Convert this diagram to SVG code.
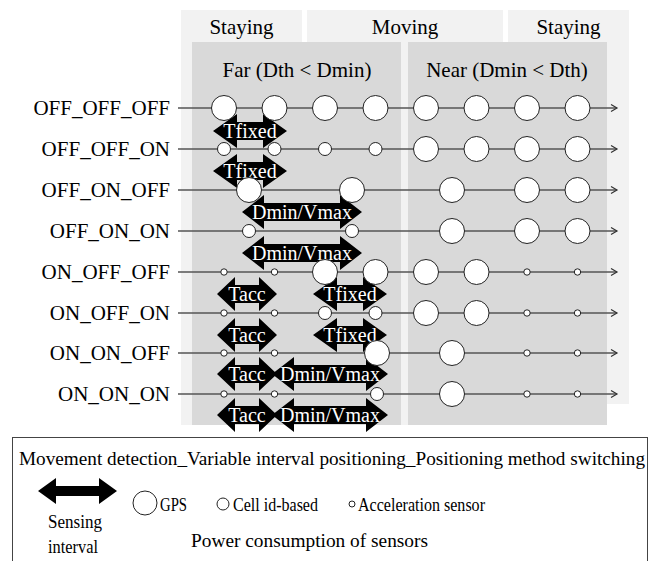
<svg xmlns="http://www.w3.org/2000/svg" width="651" height="561" viewBox="0 0 651 561" font-family="Liberation Serif, DejaVu Serif, serif">
  <style>
    .hdr { font-size: 21px; text-anchor: middle; fill: #000; }
    .lbl { font-size: 21px; text-anchor: end; fill: #000; }
    .atx { font-size: 20px; text-anchor: middle; fill: #fff; }
    .leg { font-size: 19px; fill: #000; }
    .bg1 { fill: #f2f2f2; }
    .bg2 { fill: #d9d9d9; }
    .row { stroke: #555; stroke-width: 1.3; fill: none; marker-end: url(#chev); }
    .arr { fill: #000; }
    .gps, .cell, .acc { fill: #fff; stroke: #222; stroke-width: 1; }
  </style>
  <defs>
    <marker id="chev" markerWidth="10" markerHeight="10" refX="7" refY="4" orient="auto" markerUnits="userSpaceOnUse">
      <path d="M1,0.5 L7,4 L1,7.5" fill="none" stroke="#333" stroke-width="1.2"/>
    </marker>
    <path id="a-tfixed" d="M-37,0 L-13,-17 L-13,-9 L13,-9 L13,-17 L37,0 L13,17 L13,9 L-13,9 L-13,17 Z"/>
    <path id="a-tacc" d="M-30,0 L-12,-17 L-12,-9 L12,-9 L12,-17 L30,0 L12,17 L12,9 L-12,9 L-12,17 Z"/>
    <path id="a-dmin" d="M-60,0 L-38,-17 L-38,-9 L38,-9 L38,-17 L60,0 L38,17 L38,9 L-38,9 L-38,17 Z"/>
    <path id="a-dmin2" d="M-58,0 L-36,-17 L-36,-9 L36,-9 L36,-17 L58,0 L36,17 L36,9 L-36,9 L-36,17 Z"/>
  </defs>

  <!-- state bands -->
  <g id="bands">
    <rect class="bg1" x="181" y="10" width="121" height="415"/>
    <rect class="bg1" x="307" y="10" width="196" height="415"/>
    <rect class="bg1" x="508" y="10" width="121" height="394"/>
    <text class="hdr" x="241.5" y="34">Staying</text>
    <text class="hdr" x="405" y="34">Moving</text>
    <text class="hdr" x="568.5" y="34">Staying</text>
  </g>
  <g id="zones">
    <rect class="bg2" x="192" y="42" width="209" height="383"/>
    <rect class="bg2" x="408" y="42" width="199" height="383"/>
    <text class="hdr" x="297" y="77">Far (Dth &lt; Dmin)</text>
    <text class="hdr" x="507" y="77">Near (Dmin &lt; Dth)</text>
  </g>

  <!-- row labels -->
  <g id="labels">
    <text class="lbl" x="170" y="115">OFF_OFF_OFF</text>
    <text class="lbl" x="170" y="156">OFF_OFF_ON</text>
    <text class="lbl" x="170" y="197">OFF_ON_OFF</text>
    <text class="lbl" x="170" y="238">OFF_ON_ON</text>
    <text class="lbl" x="170" y="279">ON_OFF_OFF</text>
    <text class="lbl" x="170" y="320">ON_OFF_ON</text>
    <text class="lbl" x="170" y="360">ON_ON_OFF</text>
    <text class="lbl" x="170" y="401">ON_ON_ON</text>
  </g>

  <!-- time lines -->
  <g id="connectors">
    <line class="row" x1="178" y1="108" x2="617" y2="108"/>
    <line class="row" x1="178" y1="149" x2="617" y2="149"/>
    <line class="row" x1="178" y1="190" x2="617" y2="190"/>
    <line class="row" x1="178" y1="231" x2="617" y2="231"/>
    <line class="row" x1="178" y1="272" x2="617" y2="272"/>
    <line class="row" x1="178" y1="313" x2="617" y2="313"/>
    <line class="row" x1="178" y1="353" x2="617" y2="353"/>
    <line class="row" x1="178" y1="394" x2="617" y2="394"/>
  </g>

  <!-- sensing intervals -->
  <g id="intervals">
    <use href="#a-tfixed" class="arr" x="250" y="131"/>
    <use href="#a-tfixed" class="arr" x="250" y="171"/>
    <use href="#a-dmin" class="arr" x="302" y="212"/>
    <use href="#a-dmin" class="arr" x="302" y="253"/>
    <use href="#a-tacc" class="arr" x="247" y="294"/>
    <use href="#a-tfixed" class="arr" x="350" y="294"/>
    <use href="#a-tacc" class="arr" x="247" y="335"/>
    <use href="#a-tfixed" class="arr" x="350" y="335"/>
    <use href="#a-tacc" class="arr" x="247" y="374"/>
    <use href="#a-dmin2" class="arr" x="330" y="374"/>
    <use href="#a-tacc" class="arr" x="247" y="415"/>
    <use href="#a-dmin2" class="arr" x="330" y="415"/>
    <text class="atx" x="250" y="138">Tfixed</text>
    <text class="atx" x="250" y="178">Tfixed</text>
    <text class="atx" x="302" y="219">Dmin/Vmax</text>
    <text class="atx" x="302" y="260">Dmin/Vmax</text>
    <text class="atx" x="247" y="301">Tacc</text>
    <text class="atx" x="350" y="301">Tfixed</text>
    <text class="atx" x="247" y="342">Tacc</text>
    <text class="atx" x="350" y="342">Tfixed</text>
    <text class="atx" x="247" y="381">Tacc</text>
    <text class="atx" x="330" y="381">Dmin/Vmax</text>
    <text class="atx" x="247" y="422">Tacc</text>
    <text class="atx" x="330" y="422">Dmin/Vmax</text>
  </g>

  <!-- sensing events -->
  <g id="row-off-off-off">
    <circle class="gps" cx="224" cy="108" r="12.5"/>
    <circle class="gps" cx="274.5" cy="108" r="12.5"/>
    <circle class="gps" cx="325" cy="108" r="12.5"/>
    <circle class="gps" cx="375.5" cy="108" r="12.5"/>
    <circle class="gps" cx="426" cy="108" r="12.5"/>
    <circle class="gps" cx="476.5" cy="108" r="12.5"/>
    <circle class="gps" cx="527" cy="108" r="12.5"/>
    <circle class="gps" cx="577.5" cy="108" r="12.5"/>
  </g>
  <g id="row-off-off-on">
    <circle class="cell" cx="224" cy="149" r="6.5"/>
    <circle class="cell" cx="274.5" cy="149" r="6.5"/>
    <circle class="cell" cx="325" cy="149" r="6.5"/>
    <circle class="cell" cx="375.5" cy="149" r="6.5"/>
    <circle class="gps" cx="426" cy="149" r="12.5"/>
    <circle class="gps" cx="476.5" cy="149" r="12.5"/>
    <circle class="gps" cx="527" cy="149" r="12.5"/>
    <circle class="gps" cx="577.5" cy="149" r="12.5"/>
  </g>
  <g id="row-off-on-off">
    <circle class="gps" cx="249" cy="190" r="12.5"/>
    <circle class="gps" cx="352" cy="190" r="12.5"/>
    <circle class="gps" cx="452" cy="190" r="12.5"/>
    <circle class="gps" cx="527" cy="190" r="12.5"/>
    <circle class="gps" cx="577.5" cy="190" r="12.5"/>
  </g>
  <g id="row-off-on-on">
    <circle class="cell" cx="249" cy="231" r="6.5"/>
    <circle class="cell" cx="352" cy="231" r="6.5"/>
    <circle class="gps" cx="452" cy="231" r="12.5"/>
    <circle class="gps" cx="527" cy="231" r="12.5"/>
    <circle class="gps" cx="577.5" cy="231" r="12.5"/>
  </g>
  <g id="row-on-off-off">
    <circle class="acc" cx="224" cy="272" r="3.2"/>
    <circle class="acc" cx="274.5" cy="272" r="3.2"/>
    <circle class="gps" cx="325" cy="272" r="12.5"/>
    <circle class="gps" cx="375.5" cy="272" r="12.5"/>
    <circle class="gps" cx="426" cy="272" r="12.5"/>
    <circle class="gps" cx="476.5" cy="272" r="12.5"/>
    <circle class="acc" cx="527" cy="272" r="3.2"/>
    <circle class="acc" cx="577.5" cy="272" r="3.2"/>
  </g>
  <g id="row-on-off-on">
    <circle class="acc" cx="224" cy="313" r="3.2"/>
    <circle class="acc" cx="274.5" cy="313" r="3.2"/>
    <circle class="cell" cx="325" cy="313" r="6.5"/>
    <circle class="cell" cx="375.5" cy="313" r="6.5"/>
    <circle class="gps" cx="426" cy="313" r="12.5"/>
    <circle class="gps" cx="476.5" cy="313" r="12.5"/>
    <circle class="acc" cx="527" cy="313" r="3.2"/>
    <circle class="acc" cx="577.5" cy="313" r="3.2"/>
  </g>
  <g id="row-on-on-off">
    <circle class="acc" cx="224" cy="353" r="3.2"/>
    <circle class="acc" cx="274.5" cy="353" r="3.2"/>
    <circle class="gps" cx="377" cy="353" r="12.5"/>
    <circle class="gps" cx="452" cy="353" r="12.5"/>
    <circle class="acc" cx="527" cy="353" r="3.2"/>
    <circle class="acc" cx="577.5" cy="353" r="3.2"/>
  </g>
  <g id="row-on-on-on">
    <circle class="acc" cx="224" cy="394" r="3.2"/>
    <circle class="acc" cx="274.5" cy="394" r="3.2"/>
    <circle class="cell" cx="377" cy="394" r="6.5"/>
    <circle class="gps" cx="452" cy="394" r="12.5"/>
    <circle class="acc" cx="527" cy="394" r="3.2"/>
    <circle class="acc" cx="577.5" cy="394" r="3.2"/>
  </g>

  <!-- legend -->
  <g id="legend">
    <rect x="12.5" y="437.5" width="635" height="140" fill="#fff" stroke="#444" stroke-width="1"/>
    <text class="leg" x="332" y="465" text-anchor="middle" textLength="626" lengthAdjust="spacingAndGlyphs">Movement detection_Variable interval positioning_Positioning method switching</text>
    <path class="arr" d="M38,491 L56,478 L56,486 L99,486 L99,478 L117,491 L99,504 L99,496 L56,496 L56,504 Z"/>
    <text class="leg" x="75" y="528" text-anchor="middle" textLength="54" lengthAdjust="spacingAndGlyphs">Sensing</text>
    <text class="leg" x="73" y="553" text-anchor="middle" textLength="50" lengthAdjust="spacingAndGlyphs">interval</text>
    <circle class="gps" cx="145" cy="503" r="12"/>
    <text class="leg" x="160" y="511" textLength="27" lengthAdjust="spacingAndGlyphs">GPS</text>
    <circle class="cell" cx="223" cy="504" r="6"/>
    <text class="leg" x="233" y="511" textLength="85" lengthAdjust="spacingAndGlyphs">Cell id-based</text>
    <circle class="acc" cx="352" cy="504" r="3"/>
    <text class="leg" x="358" y="511" textLength="127" lengthAdjust="spacingAndGlyphs">Acceleration sensor</text>
    <text class="leg" x="191" y="547" textLength="237" lengthAdjust="spacingAndGlyphs">Power consumption of sensors</text>
  </g>
</svg>
